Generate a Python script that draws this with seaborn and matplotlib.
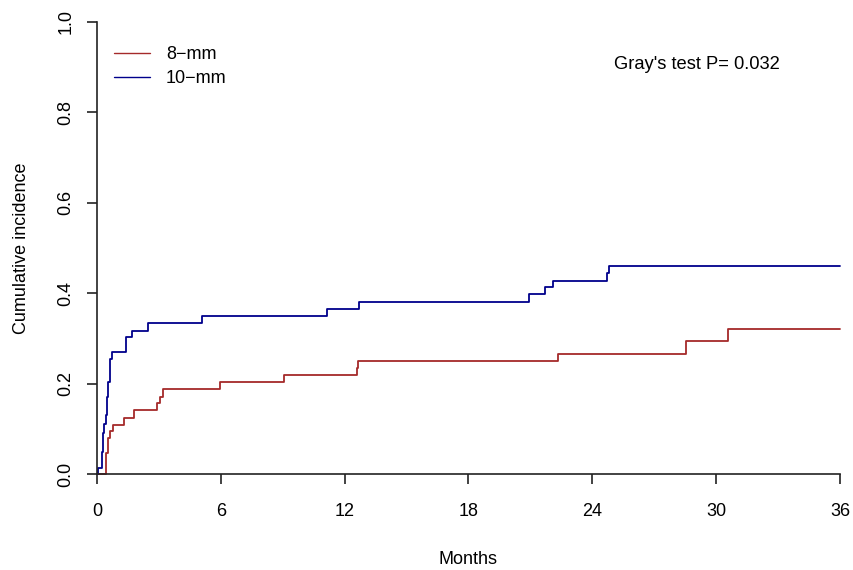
import matplotlib
matplotlib.use("Agg")
import matplotlib.pyplot as plt
import seaborn as sns
import pandas as pd

# Data
groups = ["8\u2212mm", "10\u2212mm"]
red_times = [0, 0.44, 0.52, 0.63, 0.79, 1.29, 1.78, 2.89, 3.04, 3.21, 5.94, 9.04,
             12.58, 12.64, 22.35, 28.54, 30.55, 36]
red_values = [0, 0.046, 0.079, 0.095, 0.109, 0.125, 0.141, 0.156, 0.171, 0.187,
              0.204, 0.218, 0.234, 0.250, 0.265, 0.294, 0.321, 0.321]
blue_times = [0, 0.05, 0.25, 0.30, 0.35, 0.42, 0.47, 0.52, 0.63, 0.74, 1.39, 1.68,
              2.45, 5.10, 11.14, 12.71, 20.95, 21.72, 22.08, 24.69, 24.82, 36]
blue_values = [0, 0.014, 0.049, 0.090, 0.110, 0.130, 0.171, 0.204, 0.254, 0.269,
               0.302, 0.317, 0.333, 0.350, 0.365, 0.381, 0.398, 0.413, 0.428,
               0.445, 0.460, 0.460]
x_ticks = [0, 6, 12, 18, 24, 30, 36]
y_ticks = [0.0, 0.2, 0.4, 0.6, 0.8, 1.0]
annotation = "Gray's test P= 0.032"

df = pd.concat([
    pd.DataFrame({"Months": red_times, "CI": red_values, "group": groups[0]}),
    pd.DataFrame({"Months": blue_times, "CI": blue_values, "group": groups[1]}),
], ignore_index=True)

sns.set_theme(style="ticks")
plt.rcParams["font.family"] = ["Liberation Sans", "DejaVu Sans"]
plt.rcParams["text.color"] = "black"
plt.rcParams["axes.labelcolor"] = "black"

fig = plt.figure(figsize=(8.54, 5.70), dpi=100)
ax = fig.add_axes([97 / 854, 1 - 474 / 570, (840 - 97) / 854, (474 - 22) / 570])

palette = {groups[0]: "#A52A2A", groups[1]: "#00008B"}
sns.lineplot(data=df, x="Months", y="CI", hue="group", palette=palette,
             estimator=None, sort=False, drawstyle="steps-post", linewidth=1.3,
             ax=ax, legend=True)
for ln in ax.lines:
    ln.set_clip_on(False)

ax.set_xlim(0, 36)
ax.set_ylim(0, 1)
ax.set_xticks(x_ticks)
ax.set_xticklabels([str(t) for t in x_ticks])
ax.set_yticks(y_ticks)
ax.set_yticklabels([f"{t:.1f}" for t in y_ticks], rotation=90, va="center")
ax.tick_params(axis="both", direction="out", length=7.2, width=1.2, colors="#222222",
               labelsize=13, labelcolor="black")
ax.tick_params(axis="x", pad=14)
ax.tick_params(axis="y", pad=9)
sns.despine(ax=ax)
for s in ["left", "bottom"]:
    ax.spines[s].set_linewidth(1.2)
    ax.spines[s].set_color("#222222")

ax.set_xlabel("Months", fontsize=13, labelpad=22)
ax.set_ylabel("Cumulative incidence", fontsize=13, labelpad=20)

ax.text(25.05, 0.905, annotation, fontsize=13.2, va="center", ha="left")

leg = ax.legend(loc="upper left", bbox_to_anchor=(0.004, 0.978), frameon=False,
                fontsize=13, handlelength=1.95, handletextpad=0.9, labelspacing=0.36,
                borderpad=0.3)
for h in leg.get_lines():
    h.set_linewidth(1.0)

fig.savefig("out.png", dpi=100)
